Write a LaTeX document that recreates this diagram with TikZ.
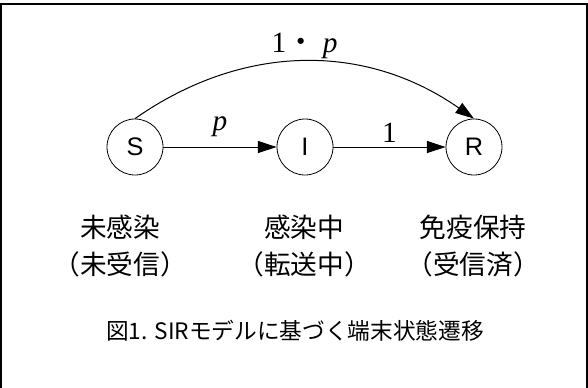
\documentclass[tikz,border=0pt]{standalone}
\usepackage{fontspec}
\setmainfont{Liberation Serif}
\setsansfont{Liberation Sans}
\newfontfamily\jpfont{Noto Sans CJK JP}
\usetikzlibrary{positioning,arrows.meta}

\begin{document}
\begin{tikzpicture}[x=0.75pt,y=-0.75pt,
		state/.style={circle,draw,line width=0.6pt,minimum size=42pt,inner sep=0pt,font=\sffamily\fontsize{19}{19}\selectfont},
		rate/.style={inner sep=0pt,anchor=base,font=\fontsize{22}{22}\selectfont},
		trans/.style={line width=0.75pt,-{Triangle[length=14pt,width=9pt]}},
		jp/.style={align=center,inner sep=0pt,font=\jpfont\fontsize{20}{28}\selectfont}]
	\useasboundingbox (0,0) rectangle (588,387);
	\draw[line width=1.5pt] (1,390) -- (1,4) -- (587,4) -- (587,390);
	%
	\node[state] (S) at (135,147) {S};
	\node[state,on grid,right=127.5pt of S] (I) {I};
	\node[state,on grid,right=126.75pt of I] (R) {R};
	%
	\draw[trans] (S) -- node[rate,yshift=12.75pt] {\textit{p}} (I);
	\draw[trans] (I) -- node[rate,yshift=3.75pt] {1} (R);
	\draw[trans] (S.north) to[out=35,in=145] node[rate,yshift=6.75pt] {1{\jpfont ・} \textit{p}} (R.north);
	%
	\node[jp] (Stext) at (120,246) {未感染\\（未受信）};
	\node[jp] (Itext) at (304,246) {感染中\\（転送中）};
	\node[jp] (Rtext) at (473,246) {免疫保持\\（受信済）};
	\node[jp,font=\jpfont\fontsize{17}{17}\selectfont] (caption) at (295,331) {図1. SIRモデルに基づく端末状態遷移};
\end{tikzpicture}
\end{document}
